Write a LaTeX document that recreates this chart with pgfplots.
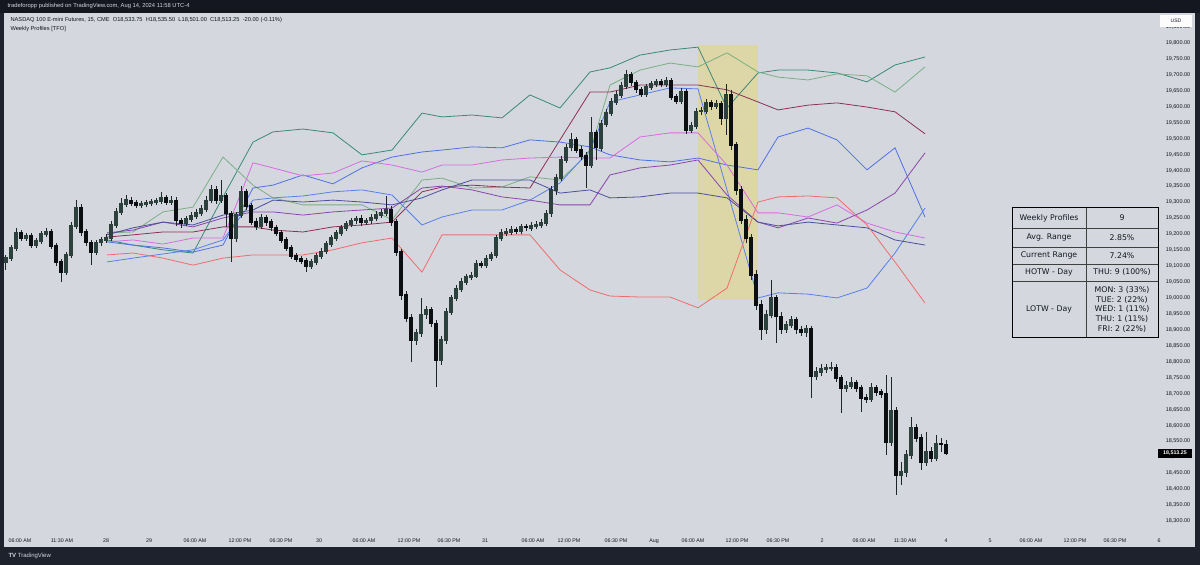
\documentclass[border=0pt]{standalone}
\usepackage{pgfplots}
\pgfplotsset{compat=1.18}
\usepackage{pgfplotstable}
\usepackage{fontspec}
\setmainfont{Liberation Sans}
\newfontfamily\tabfont{DejaVu Sans}
\definecolor{chartbg}{RGB}{212,215,222}
\definecolor{framec}{RGB}{30,34,45}
\definecolor{topbar}{RGB}{20,23,32}
\definecolor{candleup}{RGB}{44,64,60}
\definecolor{candledn}{RGB}{12,15,17}
\definecolor{wick}{RGB}{28,38,36}
\definecolor{hl}{RGB}{221,214,166}
\definecolor{txt}{RGB}{19,23,34}
\definecolor{cteal}{RGB}{58,138,122}
\definecolor{clg}{RGB}{122,176,132}
\definecolor{cmar}{RGB}{140,48,84}
\definecolor{cb1}{RGB}{80,112,230}
\definecolor{cb2}{RGB}{88,128,236}
\definecolor{cmag}{RGB}{214,108,222}
\definecolor{cvio}{RGB}{138,70,170}
\definecolor{cnavy}{RGB}{76,78,160}
\definecolor{cred}{RGB}{240,108,108}

\pgfplotstableread{
x o h l c
6 19113 19135 19088 19125
11 19125 19166 19116 19157
16 19157 19220 19147 19204
21 19204 19213 19179 19188
26 19188 19204 19179 19194
31 19194 19204 19157 19166
36 19166 19188 19157 19179
41 19179 19210 19169 19201
46 19201 19220 19191 19207
51 19207 19216 19154 19163
56 19163 19173 19100 19113
61 19113 19122 19050 19081
66 19081 19144 19072 19135
71 19135 19238 19125 19226
76 19226 19307 19216 19285
81 19285 19295 19194 19207
86 19207 19216 19163 19173
91 19173 19182 19103 19144
96 19144 19182 19135 19173
101 19173 19191 19163 19182
106 19182 19201 19173 19188
111 19188 19242 19179 19229
116 19229 19282 19220 19270
121 19270 19314 19260 19295
126 19295 19323 19285 19307
131 19307 19317 19289 19298
136 19298 19307 19282 19292
141 19292 19304 19282 19295
146 19295 19307 19285 19298
151 19298 19311 19289 19301
156 19301 19314 19292 19304
161 19304 19333 19295 19314
166 19314 19323 19292 19301
171 19301 19320 19292 19307
176 19307 19317 19226 19242
181 19242 19251 19220 19235
186 19235 19257 19226 19248
191 19248 19270 19238 19257
196 19257 19279 19248 19267
201 19267 19292 19257 19279
206 19279 19320 19270 19307
211 19307 19354 19298 19339
216 19339 19351 19295 19307
221 19307 19370 19298 19320
226 19320 19329 19223 19264
231 19264 19273 19113 19188
236 19188 19270 19176 19260
241 19260 19351 19251 19333
246 19333 19342 19276 19289
251 19289 19298 19229 19238
256 19238 19251 19213 19226
261 19226 19264 19216 19251
266 19251 19260 19226 19238
271 19238 19248 19210 19220
276 19220 19229 19194 19204
281 19204 19213 19173 19182
286 19182 19191 19147 19157
291 19157 19166 19122 19132
296 19132 19141 19113 19122
301 19122 19132 19107 19116
306 19116 19125 19081 19100
311 19100 19122 19091 19113
316 19113 19141 19103 19132
321 19132 19157 19122 19147
326 19147 19179 19138 19169
331 19169 19198 19160 19188
336 19188 19213 19179 19204
341 19204 19229 19194 19220
346 19220 19242 19210 19232
351 19232 19251 19223 19242
356 19242 19257 19232 19248
361 19248 19260 19226 19238
366 19238 19251 19229 19242
371 19242 19264 19232 19251
376 19251 19273 19242 19260
381 19260 19279 19251 19267
386 19267 19320 19257 19276
391 19276 19289 19226 19238
396 19238 19248 19132 19144
401 19144 19154 18994 19009
406 19009 19022 18925 18937
411 18937 18950 18799 18868
416 18868 18903 18852 18890
421 18890 19000 18878 18947
426 18947 18975 18934 18962
431 18962 18972 18909 18921
436 18921 18931 18721 18805
441 18805 18881 18790 18868
446 18868 18969 18856 18956
451 18956 19009 18947 19000
456 19000 19041 18991 19028
461 19028 19063 19019 19050
466 19050 19075 19041 19066
471 19066 19081 19056 19069
476 19069 19119 19063 19107
481 19107 19116 19094 19103
486 19103 19135 19094 19125
491 19125 19144 19116 19135
496 19135 19198 19125 19188
501 19188 19216 19179 19204
506 19204 19220 19194 19207
511 19207 19226 19198 19213
516 19213 19223 19201 19210
521 19210 19232 19201 19223
526 19223 19232 19210 19220
531 19220 19238 19210 19226
536 19226 19242 19216 19229
541 19229 19248 19220 19235
546 19235 19276 19226 19264
551 19264 19351 19254 19339
556 19339 19389 19323 19376
561 19376 19445 19367 19433
566 19433 19483 19424 19471
571 19471 19518 19461 19496
576 19496 19505 19455 19464
581 19464 19477 19433 19445
586 19445 19458 19345 19417
591 19417 19568 19408 19518
596 19518 19527 19433 19471
601 19471 19558 19461 19546
606 19546 19593 19536 19580
611 19580 19627 19571 19615
616 19615 19649 19605 19637
621 19637 19678 19627 19665
626 19665 19715 19656 19700
631 19700 19709 19665 19675
636 19675 19684 19643 19653
641 19653 19662 19631 19640
646 19640 19671 19631 19662
651 19662 19681 19653 19671
656 19671 19687 19662 19678
661 19678 19687 19662 19671
666 19671 19693 19662 19681
671 19681 19690 19621 19631
676 19631 19640 19609 19618
681 19618 19659 19609 19646
686 19646 19656 19515 19527
691 19527 19552 19518 19540
696 19540 19596 19530 19584
701 19584 19599 19574 19587
706 19587 19624 19577 19612
711 19612 19621 19590 19602
716 19602 19621 19593 19609
721 19609 19618 19543 19565
726 19565 19671 19511 19637
731 19637 19653 19464 19480
736 19480 19489 19323 19339
741 19339 19351 19232 19245
746 19245 19260 19173 19188
751 19188 19201 19056 19072
756 19072 19088 18962 18978
761 18978 18994 18868 18900
766 18900 18962 18887 18947
771 18947 19056 18937 19000
776 19000 19009 18859 18943
781 18943 18956 18887 18900
786 18900 18928 18890 18915
791 18915 18943 18906 18931
796 18931 18940 18887 18900
801 18900 18912 18881 18893
806 18893 18915 18878 18903
811 18903 18912 18686 18755
816 18755 18783 18743 18768
821 18768 18793 18755 18777
826 18777 18793 18765 18780
831 18780 18799 18771 18783
836 18783 18793 18736 18749
841 18749 18758 18639 18718
846 18718 18739 18705 18724
851 18724 18752 18714 18733
856 18733 18743 18705 18718
861 18718 18727 18642 18686
866 18686 18699 18670 18683
871 18683 18733 18674 18718
876 18718 18727 18692 18705
881 18705 18714 18686 18699
886 18699 18758 18507 18548
891 18548 18752 18536 18648
896 18648 18658 18382 18445
901 18445 18485 18413 18454
906 18454 18523 18438 18507
911 18507 18627 18495 18592
916 18592 18605 18548 18561
921 18561 18573 18460 18485
926 18485 18579 18473 18517
931 18517 18532 18485 18498
936 18498 18570 18488 18542
941 18542 18561 18517 18540
946 18540 18554 18507 18513.25
}\candles

\pgfplotstableread{
x t lg m b1 b2 mg v n r
107 19182 19204 19191 19176 19113 19176 19204 19198 19135
133 19166 19207 19198 19166 19125 19182 19213 19220 19141
163 19151 19270 19207 19157 19138 19169 19238 19238 19125
193 19141 19285 19207 19144 19151 19188 19223 19229 19103
223 19317 19442 19223 19166 19182 19188 19251 19260 19125
253 19489 19354 19223 19345 19307 19424 19270 19276 19135
273 19521 19314 19213 19354 19314 19408 19270 19307 19135
303 19530 19292 19207 19386 19320 19383 19260 19301 19135
333 19518 19292 19223 19358 19333 19392 19270 19307 19151
362 19449 19292 19229 19408 19339 19430 19276 19301 19173
392 19464 19245 19238 19442 19323 19417 19282 19292 19188
422 19580 19370 19333 19458 19229 19395 19345 19314 19081
442 19568 19376 19348 19464 19254 19417 19351 19339 19198
472 19574 19345 19354 19474 19276 19417 19339 19370 19198
502 19565 19348 19348 19471 19276 19433 19317 19370 19198
530 19637 19380 19345 19496 19307 19439 19307 19370 19198
560 19596 19370 19496 19489 19361 19442 19292 19329 19088
590 19709 19458 19646 19474 19464 19439 19292 19339 19025
610 19722 19668 19646 19449 19615 19439 19386 19314 19006
640 19762 19715 19668 19433 19637 19505 19408 19317 19003
670 19778 19737 19668 19427 19659 19518 19417 19329 19003
698 19787 19725 19668 19439 19656 19518 19433 19329 18969
727 19596 19769 19653 19417 19339 19417 19323 19314 19031
758 19706 19709 19615 19402 19000 19267 19238 19238 19301
778 19715 19693 19590 19505 19016 19267 19220 19226 19317
808 19715 19684 19605 19533 19012 19254 19251 19238 19320
837 19706 19703 19612 19496 19000 19292 19235 19229 19314
867 19678 19697 19599 19402 19031 19235 19276 19220 19229
895 19731 19646 19584 19471 19141 19207 19329 19182 19113
925 19756 19725 19515 19254 19282 19188 19455 19166 18984
}\profiles

\begin{document}
\begin{tikzpicture}[x=1pt,y=1pt]
\fill[framec] (0,0) rectangle (1200,565);
\fill[topbar] (0,552) rectangle (1200,565);
\fill[chartbg] (4,18) rectangle (1195,552);
\node[anchor=west, text=chartbg, font=\fontsize{5.8}{7}\selectfont] at (4,558.5) {tradeforopp published on TradingView.com, Aug 14, 2024 11:58 UTC-4};
\begin{axis}[at={(4pt,34pt)}, anchor=south west, width=1161pt, height=518pt, scale only axis,
  xmin=4, xmax=1165, ymin=18268.8, ymax=19894.1,
  axis line style={draw=none}, major tick length=0pt, minor tick num=0,
  scaled y ticks=false,
  ytick={18300,18350,...,19850}, yticklabel pos=right,
  /pgf/number format/assume math mode=true,
  yticklabel={\pgfmathprintnumber[fixed, fixed zerofill, precision=2, 1000 sep={,}]{\tick}},
  yticklabel style={anchor=center, xshift=13pt, text=txt, font=\fontsize{5.5}{6}\selectfont},
  xtick={20,62,106,149,195,240,281,319,364,409,449,485,533,569,616,654,693,737,778,822,864,905,946,990,1031,1075,1115,1159},
  xticklabels={06:00 AM,11:30 AM,28,29,06:00 AM,12:00 PM,06:30 PM,30,06:00 AM,12:00 PM,06:30 PM,31,06:00 AM,12:00 PM,06:30 PM,Aug,06:00 AM,12:00 PM,06:30 PM,2,06:00 AM,11:30 AM,4,5,06:00 AM,12:00 PM,06:30 PM,6},
  xticklabel style={anchor=center, yshift=-10pt, text=txt, font=\fontsize{5.3}{6}\selectfont},
  clip=true]
\addplot[forget plot, fill=hl, draw=none] coordinates {(698,18994) (758,18994) (758,19794) (698,19794)} -- cycle;
\addplot[forget plot, cteal, line width=0.8pt] table[x=x, y=t] {\profiles};
\addplot[forget plot, clg, line width=0.8pt] table[x=x, y=lg] {\profiles};
\addplot[forget plot, cmar, line width=0.8pt] table[x=x, y=m] {\profiles};
\addplot[forget plot, cb1, line width=0.8pt] table[x=x, y=b1] {\profiles};
\addplot[forget plot, cb2, line width=0.8pt] table[x=x, y=b2] {\profiles};
\addplot[forget plot, cmag, line width=0.8pt] table[x=x, y=mg] {\profiles};
\addplot[forget plot, cvio, line width=0.8pt] table[x=x, y=v] {\profiles};
\addplot[forget plot, cnavy, line width=0.8pt] table[x=x, y=n] {\profiles};
\addplot[forget plot, cred, line width=0.8pt] table[x=x, y=r] {\profiles};
% wicks
\addplot[forget plot, draw=none, mark=none, error bars/.cd, y dir=plus, y explicit, error mark=none,
  error bar style={draw=wick, line width=1pt, line cap=butt}]
  table[x=x, y=l, y error expr=\thisrow{h}-\thisrow{l}] {\candles};
% bodies, up
\addplot[forget plot, draw=none, mark=none, restrict expr to domain={\thisrow{c}-\thisrow{o}}{0:100000},
  error bars/.cd, y dir=both, y explicit, error mark=none,
  error bar style={draw=candleup, line width=3.6pt, line cap=butt}]
  table[x=x, y expr=(\thisrow{o}+\thisrow{c})/2, y error expr=abs(\thisrow{c}-\thisrow{o})/2+2] {\candles};
% bodies, down
\addplot[forget plot, draw=none, mark=none, restrict expr to domain={\thisrow{c}-\thisrow{o}}{-100000:0},
  error bars/.cd, y dir=both, y explicit, error mark=none,
  error bar style={draw=candledn, line width=3.6pt, line cap=butt}]
  table[x=x, y expr=(\thisrow{o}+\thisrow{c})/2, y error expr=abs(\thisrow{c}-\thisrow{o})/2+2] {\candles};
\end{axis}
% header texts
\node[anchor=west, text=txt, font=\fontsize{5.7}{7}\selectfont] at (7,545) {NASDAQ 100 E-mini Futures, 15, CME\ \ O18,533.75\ \ H18,535.50\ \ L18,501.00\ \ C18,513.25\ \ -20.00 (-0.11\%)};
\node[anchor=west, text=txt, font=\fontsize{5.7}{7}\selectfont] at (7,536) {Weekly Profiles [TFO]};
% USD box
\fill[white!92!chartbg] (1160,538) rectangle (1192,550);
\node[text=txt, font=\fontsize{5}{6}\selectfont] at (1176,544) {USD};
% current price
\fill[black] (1158,107) rectangle (1192,116);
\node[text=white, font=\bfseries\fontsize{5.3}{6}\selectfont] at (1175,111.5) {18,513.25};
% logo
\node[anchor=west, text=chartbg, font=\fontsize{6}{7}\selectfont] at (5,9) {\textbf{TV}\ TradingView};
% table
\begin{scope}[font=\tabfont\fontsize{7.8}{9.6}\selectfont, text=txt]
\fill[chartbg] (1012,227) rectangle (1158,357);
\draw[black!75, line width=0.7pt] (1012,337) -- (1158,337) (1012,318) -- (1158,318) (1012,301) -- (1158,301) (1012,284) -- (1158,284) (1086,227) -- (1086,357);
\draw[black, line width=1pt] (1012,227) rectangle (1158,357);
\node at (1049,347) {Weekly Profiles};
\node at (1122,347) {9};
\node at (1049,327.5) {Avg. Range};
\node at (1122,327.5) {2.85\%};
\node at (1049,309.5) {Current Range};
\node at (1122,309.5) {7.24\%};
\node at (1049,292.5) {HOTW - Day};
\node at (1122,292.5) {THU: 9 (100\%)};
\node at (1049,255.5) {LOTW - Day};
\node[align=center, inner sep=0pt] at (1122,255.5) {MON: 3 (33\%)\\TUE: 2 (22\%)\\WED: 1 (11\%)\\THU: 1 (11\%)\\FRI: 2 (22\%)};
\end{scope}
\end{tikzpicture}
\end{document}
